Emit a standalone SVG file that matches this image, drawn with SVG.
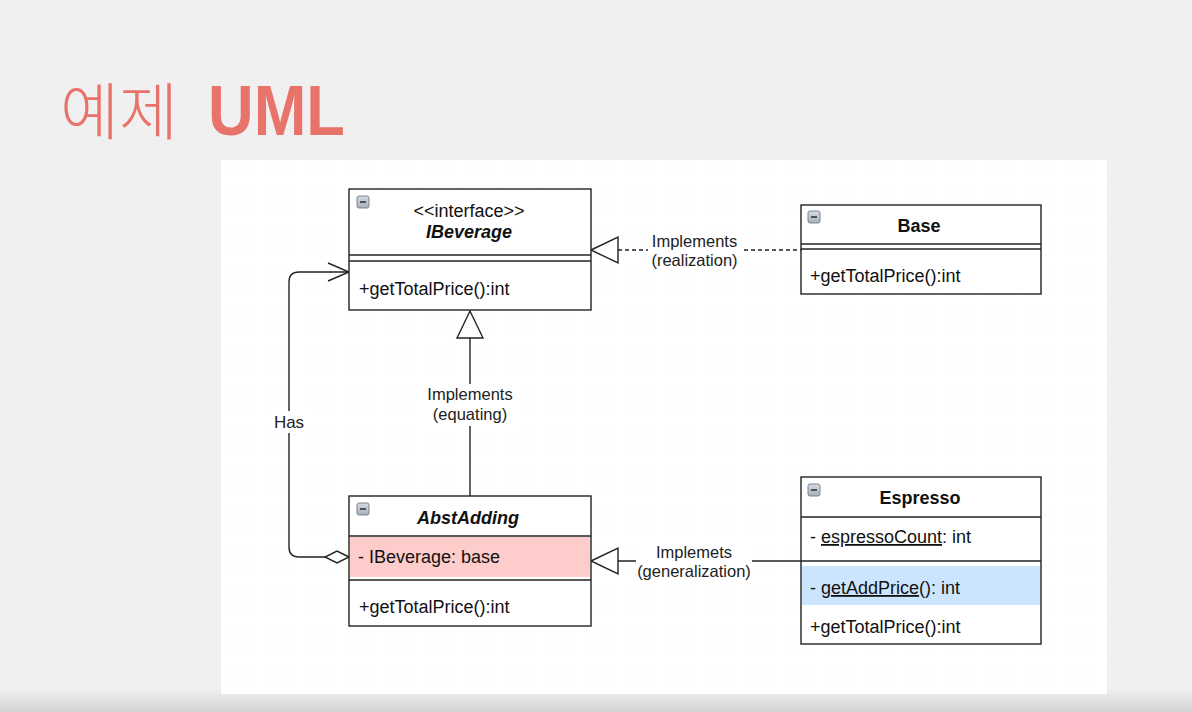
<svg xmlns="http://www.w3.org/2000/svg" width="1192" height="712" viewBox="0 0 1192 712">
<style>
.box{fill:#ffffff;stroke:#222;stroke-width:1.4}
.ln{stroke:#222;stroke-width:1.4;fill:none}
.t{font-family:"Liberation Sans",Arial,sans-serif;font-size:18px;fill:#111}
.b{font-weight:bold}
.c{text-anchor:middle}
.lbl{font-family:"Liberation Sans",Arial,sans-serif;font-size:16.5px;fill:#222;text-anchor:middle}
.u{text-decoration:underline}
</style>
<defs>
<linearGradient id="bot" x1="0" y1="0" x2="0" y2="1">
<stop offset="0" stop-color="#f0f0f0"/>
<stop offset="1" stop-color="#d4d4d4"/>
</linearGradient>
<pattern id="grid" width="10" height="10" patternUnits="userSpaceOnUse" x="221" y="160">
<rect x="4" y="4" width="1" height="1" fill="#ececec"/>
</pattern>
<linearGradient id="ic" x1="0" y1="0" x2="0" y2="1">
<stop offset="0" stop-color="#d6dbe2"/>
<stop offset="1" stop-color="#a8b0bb"/>
</linearGradient>
<g id="minus">
<rect x="0" y="0" width="12" height="12" rx="2" fill="url(#ic)" stroke="#7d8590" stroke-width="1"/>
<rect x="3" y="5.2" width="6" height="1.6" fill="#333"/>
</g>
</defs>
<rect x="0" y="0" width="1192" height="712" fill="#f0f0f0"/>
<rect x="0" y="688" width="1192" height="24" fill="url(#bot)"/>
<rect x="221" y="160" width="886" height="534" fill="#ffffff"/>
<rect x="221" y="160" width="886" height="534" fill="url(#grid)"/>

<g id="title">
<text x="60" y="135" font-family="'Noto Sans CJK KR',sans-serif" font-weight="300" font-size="62" fill="#e8736a" textLength="118" lengthAdjust="spacingAndGlyphs">예제</text>
<text x="208" y="135" font-family="'Liberation Sans',Arial,sans-serif" font-weight="bold" font-size="70" fill="#e8736a" textLength="137" lengthAdjust="spacingAndGlyphs">UML</text>
</g>

<g id="connectors">
<!-- realization -->
<line x1="618" y1="250" x2="801" y2="250" class="ln" stroke-dasharray="4,3"/>
<polygon points="591,250 618,237 618,263" fill="#fff" stroke="#222" stroke-width="1.4"/>
<rect x="648" y="230" width="94" height="40" fill="#fff"/>
<text class="lbl" x="694.5" y="247">Implements</text>
<text class="lbl" x="694.5" y="266">(realization)</text>
<!-- equating -->
<line x1="470" y1="338" x2="470" y2="496" class="ln"/>
<polygon points="470,311 457,338 483,338" fill="#fff" stroke="#222" stroke-width="1.4"/>
<rect x="422" y="384" width="96" height="42" fill="#fff"/>
<text class="lbl" x="470" y="400">Implements</text>
<text class="lbl" x="470" y="420">(equating)</text>
<!-- generalization -->
<line x1="618" y1="561" x2="801" y2="561" class="ln"/>
<polygon points="591,561 618,548 618,574" fill="#fff" stroke="#222" stroke-width="1.4"/>
<rect x="636" y="541" width="116" height="40" fill="#fff"/>
<text class="lbl" x="694" y="558">Implemets</text>
<text class="lbl" x="694" y="577">(generalization)</text>
<!-- has -->
<path d="M325,557 H299 Q289,557 289,547 V282 Q289,272 299,272 H348" class="ln"/>
<polygon points="349,557 337,551 325,557 337,563" fill="#fff" stroke="#222" stroke-width="1.4"/>
<polyline points="328,263 349,272 328,281" class="ln"/>
<rect x="271" y="411" width="36" height="22" fill="#fff"/>
<text class="lbl" x="289" y="428" style="font-size:17px">Has</text>
</g>

<g id="IBeverage">
<rect class="box" x="349" y="189" width="242" height="121"/>
<line class="ln" x1="349" y1="255" x2="591" y2="255"/>
<line class="ln" x1="349" y1="261" x2="591" y2="261"/>
<use href="#minus" x="357" y="196"/>
<text class="t c" x="469" y="217">&lt;&lt;interface&gt;&gt;</text>
<text class="t c b" x="469" y="238" font-style="italic">IBeverage</text>
<text class="t" x="359" y="295">+getTotalPrice():int</text>
</g>

<g id="Base">
<rect class="box" x="801" y="205" width="240" height="89"/>
<line class="ln" x1="801" y1="244" x2="1041" y2="244"/>
<line class="ln" x1="801" y1="249" x2="1041" y2="249"/>
<use href="#minus" x="808" y="211"/>
<text class="t c b" x="919" y="232">Base</text>
<text class="t" x="810" y="282">+getTotalPrice():int</text>
</g>

<g id="AbstAdding">
<rect class="box" x="349" y="496" width="242" height="130"/>
<rect x="350" y="537" width="240" height="40" fill="#ffcccc"/>
<line class="ln" x1="349" y1="536" x2="591" y2="536"/>
<line class="ln" x1="349" y1="580" x2="591" y2="580"/>
<use href="#minus" x="357" y="503"/>
<text class="t c b" x="468" y="524" font-style="italic">AbstAdding</text>
<text class="t" x="358" y="563">- IBeverage: base</text>
<text class="t" x="359" y="613">+getTotalPrice():int</text>
</g>

<g id="Espresso">
<rect class="box" x="801" y="477" width="240" height="167"/>
<rect x="802" y="566" width="238" height="39" fill="#cce5ff"/>
<line class="ln" x1="801" y1="517" x2="1041" y2="517"/>
<line class="ln" x1="801" y1="561" x2="1041" y2="561"/>
<use href="#minus" x="808" y="484"/>
<text class="t c b" x="920" y="504">Espresso</text>
<text class="t" x="810" y="543">- <tspan class="u">espressoCount</tspan>: int</text>
<text class="t" x="810" y="594">- <tspan class="u">getAddPrice</tspan>(): int</text>
<text class="t" x="810" y="633">+getTotalPrice():int</text>
</g>
</svg>
